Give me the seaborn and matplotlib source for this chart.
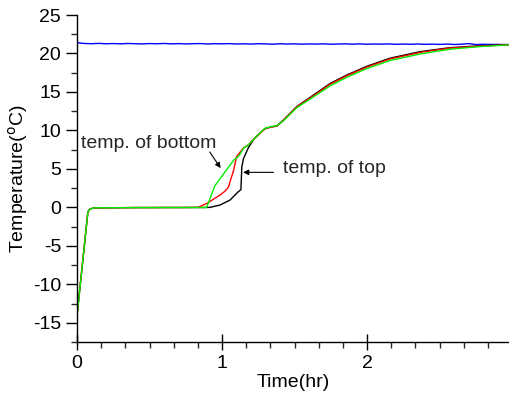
import matplotlib
matplotlib.use("Agg")
import matplotlib.pyplot as plt
import numpy as np
import pandas as pd
import seaborn as sns
from matplotlib.ticker import MultipleLocator

sns.set_theme(style="ticks")
plt.rcParams["font.family"] = ["Liberation Sans", "DejaVu Sans"]
plt.rcParams["axes.unicode_minus"] = False

# %% dados lidos do grafico
# ambiente (azul)
tempo_amb = [0.0, 0.01, 0.05, 0.1, 0.15, 0.2, 0.25, 0.3, 0.35, 0.4, 0.45, 0.5, 0.55,
             0.6, 0.65, 0.7, 0.75, 0.8, 0.85, 0.9, 0.95, 1.0, 1.05, 1.1, 1.15, 1.2,
             1.25, 1.3, 1.35, 1.4, 1.45, 1.5, 1.55, 1.6, 1.65, 1.7, 1.75, 1.8, 1.85,
             1.9, 1.95, 2.0, 2.05, 2.1, 2.15, 2.2, 2.25, 2.3, 2.35, 2.4, 2.45, 2.5,
             2.55, 2.6, 2.65, 2.7, 2.75, 2.8, 2.85, 2.9, 2.95, 2.985]
temp_amb = [21.55, 21.38, 21.30, 21.27, 21.31, 21.26, 21.29, 21.25, 21.30, 21.27,
            21.24, 21.29, 21.26, 21.30, 21.25, 21.28, 21.24, 21.27, 21.29, 21.23,
            21.27, 21.25, 21.28, 21.23, 21.26, 21.22, 21.27, 21.24, 21.21, 21.26,
            21.23, 21.25, 21.21, 21.24, 21.22, 21.25, 21.20, 21.23, 21.25, 21.21,
            21.24, 21.20, 21.23, 21.21, 21.24, 21.19, 21.22, 21.20, 21.23, 21.19,
            21.21, 21.18, 21.22, 21.17, 21.20, 21.28, 21.16, 21.19, 21.17, 21.18,
            21.16, 21.17]

# trecho final comum
tempo_final = [1.285, 1.30, 1.34, 1.377, 1.42, 1.515, 1.63, 1.745, 1.86, 2.0, 2.16,
               2.37, 2.57, 2.78, 2.985]

# topo (preto)
tempo_topo = [0.0, 0.075, 0.09, 0.12, 0.4, 0.7, 0.88, 0.917, 0.986, 1.055, 1.11,
              1.13, 1.136, 1.147, 1.18, 1.22] + tempo_final
temp_topo = [-14.1, -0.6, -0.2, -0.07, -0.03, -0.02, -0.02, 0.0, 0.3, 0.95, 2.0,
             2.3, 5.2, 6.3, 7.7, 8.9,
             10.05, 10.25, 10.45, 10.56, 11.3, 13.1, 14.6, 16.1, 17.2, 18.35, 19.4,
             20.25, 20.75, 21.0, 21.15]

# meio (vermelho)
tempo_meio = [0.0, 0.075, 0.09, 0.12, 0.4, 0.7, 0.834, 0.894, 0.986, 1.02, 1.043,
              1.08, 1.10, 1.147, 1.18, 1.22] + tempo_final
temp_meio = [-14.0, -0.55, -0.2, -0.06, -0.03, -0.02, 0.0, 0.5, 1.6, 2.1, 2.6,
             4.85, 6.6, 7.7, 8.1, 8.9,
             10.05, 10.25, 10.45, 10.56, 11.25, 13.05, 14.5, 16.0, 17.1, 18.25, 19.3,
             20.15, 20.7, 20.95, 21.15]

# fundo (verde)
tempo_fundo = [0.0, 0.075, 0.09, 0.12, 0.4, 0.7, 0.88, 0.894, 0.95, 1.03, 1.083,
               1.10, 1.12, 1.147, 1.18, 1.22] + tempo_final
temp_fundo = [-14.1, -0.6, -0.2, -0.06, -0.03, -0.02, -0.02, 0.0, 2.8, 4.85, 6.2,
              6.4, 6.8, 7.66, 8.1, 8.9,
              10.1, 10.3, 10.5, 10.6, 11.2, 12.95, 14.35, 15.8, 16.9, 18.05, 19.1,
              19.95, 20.55, 20.9, 21.12]

# %% grafico
fig = plt.figure(figsize=(5.1, 4.0), dpi=100)
ax = fig.add_axes([0.151, 0.145, 0.849, 0.8175])

series = [
    (tempo_amb, temp_amb, "#0000ff"),
    (tempo_topo, temp_topo, "black"),
    (tempo_meio, temp_meio, "#ff0000"),
    (tempo_fundo, temp_fundo, "#00ee00"),
]
for x, y, cor in series:
    sns.lineplot(x=x, y=y, color=cor, linewidth=1.0, sort=False,
                 estimator=None, ax=ax)

ax.set_xlim(0, 2.985)
ax.set_ylim(-17.5, 25)
ax.xaxis.set_major_locator(MultipleLocator(1))
ax.xaxis.set_minor_locator(MultipleLocator(1 / 6))
ax.yaxis.set_major_locator(MultipleLocator(5))
ax.yaxis.set_minor_locator(MultipleLocator(2.5))
ax.tick_params(axis="x", which="major", direction="inout", length=12, width=1,
               labelsize=14, colors="black", pad=3)
ax.tick_params(axis="x", which="minor", direction="out", length=4, width=1)
ax.tick_params(axis="y", which="major", direction="out", length=8, width=1,
               labelsize=14, colors="black")
ax.tick_params(axis="y", which="minor", direction="out", length=4, width=1)
ax.set_xlabel("Time(hr)", fontsize=14, color="black", labelpad=2)
ax.set_ylabel("Temperature($^{\\rm o}$C)", fontsize=14, color="black", labelpad=2)
sns.despine(ax=ax)
for lado in ["left", "bottom"]:
    ax.spines[lado].set_color("black")
    ax.spines[lado].set_linewidth(1)

seta = dict(arrowstyle="-|>", color="black", lw=0.8, mutation_scale=8,
            shrinkA=0, shrinkB=0)
ax.annotate("temp. of bottom", xy=(0.986, 5.2), xytext=(0.028, 8.35),
            fontsize=14, va="center", ha="left")
ax.annotate("", xy=(0.99, 5.1), xytext=(0.915, 7.2), arrowprops=seta)
ax.annotate("temp. of top", xy=(1.145, 4.55), xytext=(1.42, 5.1),
            fontsize=14, va="center", ha="left")
ax.annotate("", xy=(1.145, 4.55), xytext=(1.355, 4.55), arrowprops=seta)

fig.savefig("out.png", dpi=100)
